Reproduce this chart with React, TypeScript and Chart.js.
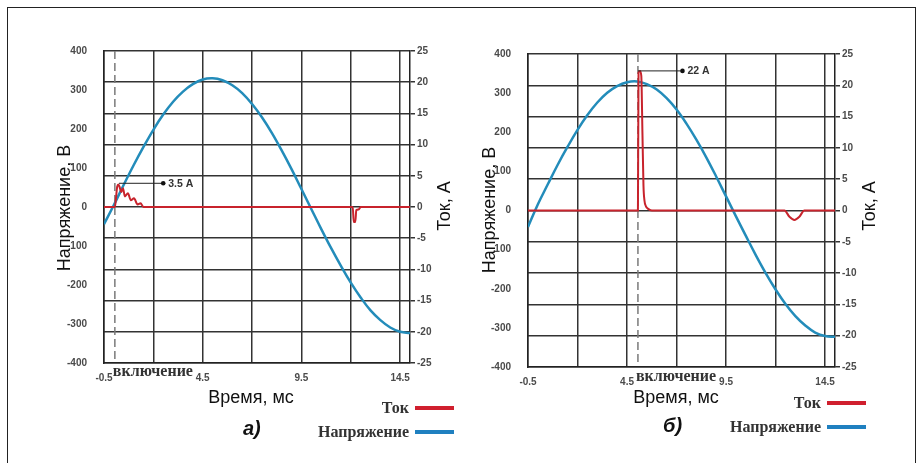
import React, { useEffect, useRef } from "react";
import { Chart, registerables } from "chart.js";

Chart.register(...registerables);

// ---------------- data ----------------
const timeMs = [-0.5, 0, 0.5, 1, 1.5, 2, 2.5, 3, 3.5, 4, 4.5, 5, 5.5, 6, 6.5, 7, 7.5, 8, 8.5, 9, 9.5, 10, 10.5, 11, 11.5, 12, 12.5, 13, 13.5, 14, 14.5, 15];
const voltageA = [-44, 5, 57, 107, 154, 198, 237, 270, 296, 315, 327, 330, 325, 312, 292, 264, 230, 190, 145, 97, 46, -5, -56, -105, -151, -194, -232, -265, -290, -309, -320, -323];
const voltageB = [-42, 16, 67, 117, 163, 206, 244, 276, 301, 318, 328, 330, 323, 309, 287, 258, 222, 181, 136, 87, 36, -15, -65, -114, -160, -202, -239, -270, -294, -312, -321, -323];

const currentTimeA = [-0.5, 0.05, 0.1, 0.17, 0.23, 0.3, 0.37, 0.46, 0.56, 0.71, 0.86, 1.02, 1.2, 1.35, 1.5, 12.1, 12.15, 12.23, 12.28, 12.4, 12.5, 15];
const currentA = [0, 0, 1.2, 3.3, 3.6, 3.1, 2.4, 3.0, 1.7, 2.2, 1.1, 1.4, 0.4, 0.6, 0, 0, -2.4, -2.4, -0.5, -0.4, 0, 0];

const currentTimeB = [-0.5, 5.05, 5.08, 5.15, 5.22, 5.28, 5.33, 5.38, 5.45, 5.55, 5.75, 12.45, 12.7, 12.95, 13.2, 13.45, 15];
const currentB = [0, 0, 22.0, 22.3, 21.5, 12, 4, 1.6, 0.7, 0.3, 0, 0, -1.0, -1.5, -1.0, 0, 0];

const xTickValues = [-0.5, 2, 4.5, 7, 9.5, 12, 14.5];
const xTickLabels = ["-0.5", "", "4.5", "", "9.5", "", "14.5"];
const voltTickValues = [-400, -300, -200, -100, 0, 100, 200, 300, 400];
const voltTickLabels = ["-400", "-300", "-200", "100", "0", "100", "200", "300", "400"];
const currTickValues = [-25, -20, -15, -10, -5, 0, 5, 10, 15, 20, 25];
const currTickLabels = ["-25", "-20", "-15", "-10", "-5", "0", "5", "10", "15", "20", "25"];

const switchOnA = 0.05;
const switchOnB = 5.05;
const peakA = { t: 0.26, value: 3.8, dotT: 2.5, label: "3.5 A" };
const peakB = { t: 5.05, value: 22.3, dotT: 7.3, label: "22 A" };

const seriesNames = { current: "Ток", voltage: "Напряжение" };
const axisTitles = { voltage: "Напряжение, В", current: "Ток, А", time: "Время, мс" };
const switchLabel = "включение";
const panelLabels = ["а)", "б)"];

// ---------------- styles ----------------
const RED = "#c8232c";
const BLUE = "#238cba";
const GRID = "#333333";
const SANS = "'Liberation Sans', Arial, sans-serif";
const SERIF = "'Liberation Serif', 'Times New Roman', serif";
const TICK_FONT = { family: SANS, size: 10, weight: "bold" as const };
const TICK_COLOR = "#4a4a4a";

type PanelCfg = {
  left: number;
  w: number;
  h: number;
  areaLeft: number;
  areaTop: number;
  areaRight: number;
  areaBottom: number;
  voltage: number[];
  currentT: number[];
  current: number[];
  switchOn: number;
  peak: { t: number; value: number; dotT: number; label: string };
  yTitle: [number, number];
  y1Title: [number, number];
  xTitle: [number, number];
  switchDy: number;
};

const panels: PanelCfg[] = [
  {
    left: 0, w: 460, h: 463,
    areaLeft: 104, areaTop: 51, areaRight: 410, areaBottom: 363,
    voltage: voltageA, currentT: currentTimeA, current: currentA,
    switchOn: switchOnA, peak: peakA,
    yTitle: [65, 208], y1Title: [445, 206], xTitle: [251, 398], switchDy: 9,
  },
  {
    left: 460, w: 463, h: 463,
    areaLeft: 68, areaTop: 54, areaRight: 375, areaBottom: 367,
    voltage: voltageB, currentT: currentTimeB, current: currentB,
    switchOn: switchOnB, peak: peakB,
    yTitle: [30, 210], y1Title: [410, 206], xTitle: [216, 398], switchDy: 10,
  },
];

function makeOverlay(cfg: PanelCfg) {
  return {
    id: "overlay",
    beforeDatasetsDraw(chart: any) {
      const { ctx, chartArea, scales } = chart;
      const px = scales.x.getPixelForValue(cfg.switchOn);
      ctx.save();
      ctx.setLineDash([8, 4]);
      ctx.strokeStyle = "#7a7a7a";
      ctx.lineWidth = 1.5;
      ctx.beginPath();
      ctx.moveTo(px, chartArea.top);
      ctx.lineTo(px, chartArea.bottom - 4);
      ctx.stroke();
      ctx.restore();
    },
    afterDatasetsDraw(chart: any) {
      const { ctx, scales } = chart;
      const x0 = scales.x.getPixelForValue(cfg.peak.t);
      const x1 = scales.x.getPixelForValue(cfg.peak.dotT);
      const y = scales.y1.getPixelForValue(cfg.peak.value);
      ctx.save();
      ctx.strokeStyle = "#222";
      ctx.lineWidth = 1;
      ctx.beginPath();
      ctx.moveTo(x0, y);
      ctx.lineTo(x1, y);
      ctx.stroke();
      ctx.fillStyle = "#111";
      ctx.beginPath();
      ctx.arc(x1, y, 2.3, 0, Math.PI * 2);
      ctx.fill();
      ctx.font = `bold 10.5px ${SANS}`;
      ctx.fillStyle = "#333";
      ctx.textAlign = "left";
      ctx.textBaseline = "middle";
      ctx.fillText(cfg.peak.label, x1 + 5, y + 0.5);
      ctx.restore();
    },
    afterDraw(chart: any) {
      const { ctx, chartArea, scales } = chart;
      ctx.save();
      // switch-on label
      const px = scales.x.getPixelForValue(cfg.switchOn);
      ctx.font = `bold 16px ${SERIF}`;
      ctx.fillStyle = "#333";
      ctx.textAlign = "left";
      ctx.textBaseline = "middle";
      ctx.fillText(switchLabel, px - 2, chartArea.bottom + cfg.switchDy);
      // axis titles
      ctx.font = `18px ${SANS}`;
      ctx.fillStyle = "#111";
      ctx.textAlign = "center";
      ctx.textBaseline = "middle";
      ctx.fillText(axisTitles.time, cfg.xTitle[0], cfg.xTitle[1]);
      ctx.save();
      ctx.translate(cfg.yTitle[0], cfg.yTitle[1]);
      ctx.rotate(-Math.PI / 2);
      ctx.fillText(axisTitles.voltage, 0, 0);
      ctx.restore();
      ctx.save();
      ctx.translate(cfg.y1Title[0], cfg.y1Title[1]);
      ctx.rotate(-Math.PI / 2);
      ctx.fillText(axisTitles.current, 0, 0);
      ctx.restore();
      ctx.restore();
    },
  };
}

function Panel({ cfg }: { cfg: PanelCfg }) {
  const ref = useRef<HTMLCanvasElement>(null);
  useEffect(() => {
    const chart = new Chart(ref.current as HTMLCanvasElement, {
      type: "line",
      data: {
        datasets: [
          {
            label: seriesNames.current,
            data: cfg.currentT.map((t, i) => ({ x: t, y: cfg.current[i] })),
            yAxisID: "y1",
            borderColor: RED,
            borderWidth: 2,
            cubicInterpolationMode: "monotone",
            pointRadius: 0,
            order: 0,
          },
          {
            label: seriesNames.voltage,
            data: timeMs.map((t, i) => ({ x: t, y: cfg.voltage[i] })),
            yAxisID: "y",
            borderColor: BLUE,
            borderWidth: 2.5,
            tension: 0.4,
            pointRadius: 0,
            order: 1,
          },
        ],
      },
      options: {
        responsive: false,
        animation: false,
        devicePixelRatio: 1,
        layout: { padding: { top: cfg.areaTop, left: 0, right: 0, bottom: 0 } },
        plugins: { legend: { display: false }, tooltip: { enabled: false } },
        scales: {
          x: {
            type: "linear",
            min: -0.5,
            max: 15,
            afterBuildTicks: (s: any) => {
              s.ticks = xTickValues.map((v) => ({ value: v }));
            },
            afterFit: (s: any) => {
              s.height = cfg.h - cfg.areaBottom;
            },
            grid: { color: GRID, lineWidth: 1.5, drawTicks: false },
            border: { color: "#222", width: 1.5 },
            ticks: {
              padding: 9,
              font: TICK_FONT,
              color: TICK_COLOR,
              maxRotation: 0,
              autoSkip: false,
              callback: (v: any) => {
                const i = xTickValues.indexOf(Number(v));
                return i >= 0 ? xTickLabels[i] : "";
              },
            },
          },
          y: {
            position: "left",
            min: -400,
            max: 400,
            afterFit: (s: any) => {
              s.width = cfg.areaLeft;
            },
            grid: { display: false },
            border: { color: "#222", width: 1.5 },
            ticks: {
              stepSize: 100,
              padding: 9,
              font: TICK_FONT,
              color: TICK_COLOR,
              callback: (v: any) => {
                const i = voltTickValues.indexOf(Number(v));
                return i >= 0 ? voltTickLabels[i] : "";
              },
            },
          },
          y1: {
            position: "right",
            min: -25,
            max: 25,
            afterFit: (s: any) => {
              s.width = cfg.w - cfg.areaRight;
            },
            grid: { color: GRID, lineWidth: 1.5, tickLength: 5 },
            border: { color: "#222", width: 1.5 },
            ticks: {
              stepSize: 5,
              padding: 2,
              font: TICK_FONT,
              color: TICK_COLOR,
              callback: (v: any) => {
                const i = currTickValues.indexOf(Number(v));
                return i >= 0 ? currTickLabels[i] : "";
              },
            },
          },
        },
      } as any,
      plugins: [makeOverlay(cfg)],
    });
    return () => chart.destroy();
  }, [cfg]);
  return (
    <canvas
      ref={ref}
      width={cfg.w}
      height={cfg.h}
      style={{ position: "absolute", left: cfg.left, top: 0, width: cfg.w, height: cfg.h }}
    />
  );
}

const legendText: React.CSSProperties = {
  position: "absolute",
  font: `bold 16px ${SERIF}`,
  color: "#333",
  textAlign: "right",
  lineHeight: "20px",
  whiteSpace: "nowrap",
};

function Legend({ right, top1, top2 }: { right: number; top1: number; top2: number }) {
  return (
    <>
      <div style={{ ...legendText, left: right - 150, width: 150, top: top1 - 10 }}>{seriesNames.current}</div>
      <div style={{ ...legendText, left: right - 150, width: 150, top: top2 - 10 }}>{seriesNames.voltage}</div>
      <div style={{ position: "absolute", left: right + 6, top: top1 - 2, width: 39, height: 4, background: "#d01f2e" }} />
      <div style={{ position: "absolute", left: right + 6, top: top2 - 2, width: 39, height: 4, background: "#1f80c0" }} />
    </>
  );
}

const panelLabelStyle: React.CSSProperties = {
  position: "absolute",
  font: `italic bold 20px ${SANS}`,
  color: "#111",
  lineHeight: "24px",
  whiteSpace: "nowrap",
};

export default function App() {
  return (
    <div
      style={{
        position: "fixed",
        left: 0,
        top: 0,
        width: 923,
        height: 463,
        overflow: "hidden",
        background: "#fff",
      }}
    >
      <div
        style={{
          position: "absolute",
          left: 7,
          top: 7,
          width: 909,
          height: 480,
          border: "1px solid #222",
          boxSizing: "border-box",
        }}
      />
      {panels.map((p, i) => (
        <Panel key={i} cfg={p} />
      ))}
      <Legend right={409} top1={408} top2={432} />
      <Legend right={821} top1={403} top2={427} />
      <div style={{ ...panelLabelStyle, left: 243, top: 416 }}>{panelLabels[0]}</div>
      <div style={{ ...panelLabelStyle, left: 663, top: 413 }}>{panelLabels[1]}</div>
    </div>
  );
}
